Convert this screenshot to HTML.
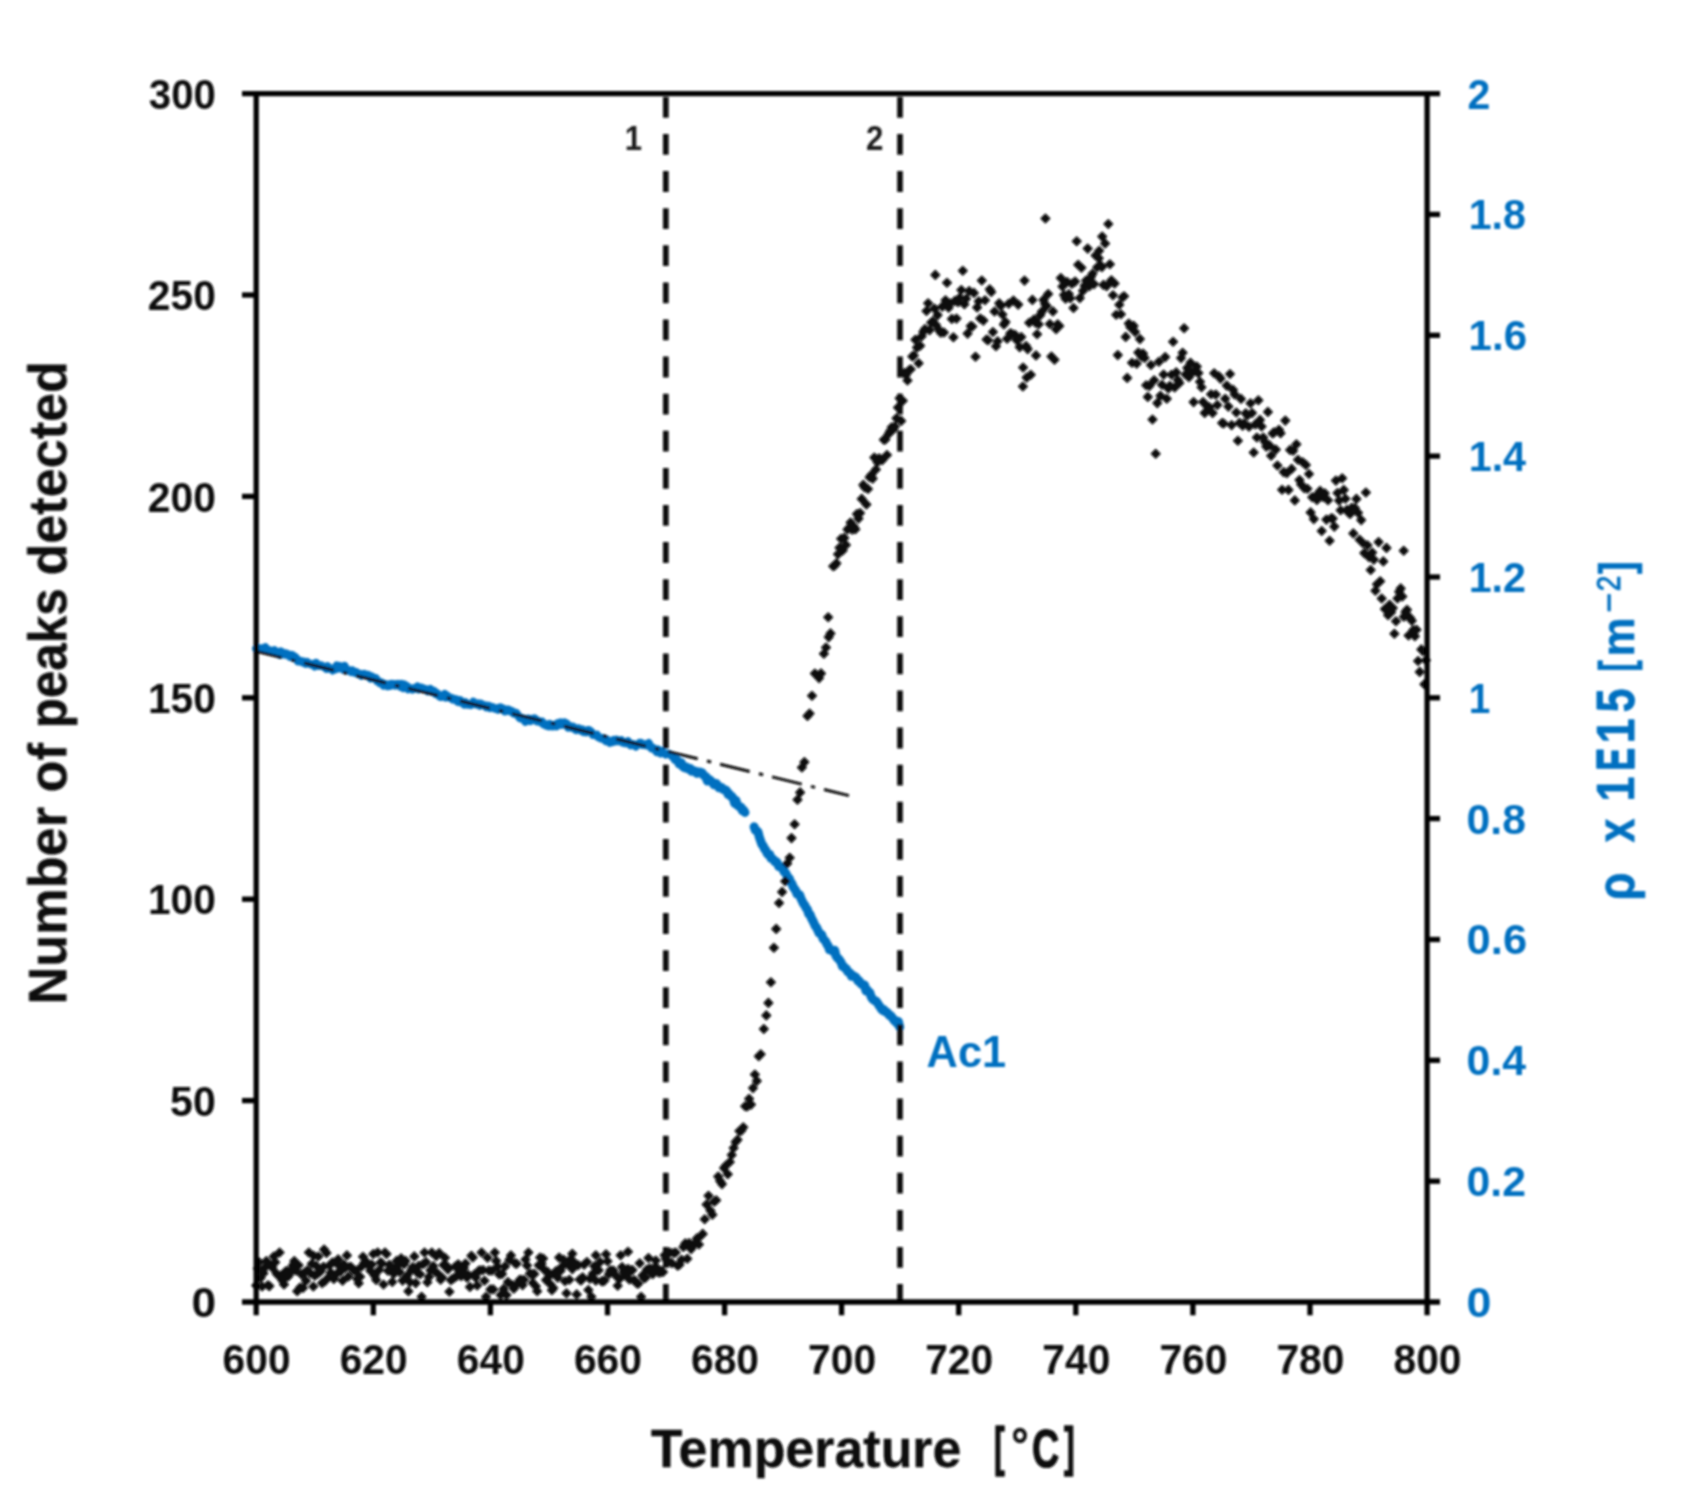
<!DOCTYPE html><html><head><meta charset="utf-8"><title>Chart</title><style>html,body{margin:0;padding:0;background:#fff;overflow:hidden}svg{display:block}text{font-family:"Liberation Sans",sans-serif;font-weight:bold}</style></head><body>
<svg width="1682" height="1501" viewBox="0 0 1682 1501">
<defs><filter id="soft" x="0" y="0" width="1682" height="1501" filterUnits="userSpaceOnUse"><feGaussianBlur stdDeviation="0.85"/></filter></defs>
<rect width="1682" height="1501" fill="#fff"/>
<g filter="url(#soft)">
<g fill="none" stroke="#0070c0" stroke-width="8.1" stroke-linejoin="round" stroke-linecap="round"><polyline points="256.2,648.7 257.5,648.1 258.8,648.7 260.1,648.5 261.4,648.2 262.7,649.0 264.0,648.1 265.3,647.3 266.6,649.3 267.9,650.3 269.2,650.0 270.5,651.3 271.8,651.2 273.1,650.7 274.4,650.1 275.7,651.8 277.0,651.8 278.3,652.9 279.6,654.8 280.9,651.5 282.2,652.4 283.5,654.4 284.8,654.6 286.1,653.3 287.4,654.0 288.7,654.7 290.0,656.8 291.3,654.9 292.6,655.2 293.9,657.9 295.2,657.0 296.5,658.7 297.8,661.3 299.1,660.4 300.4,661.3 301.7,662.1 303.0,661.4 304.3,663.1 305.6,663.8 306.9,661.9 308.2,663.2 309.5,663.4 310.8,664.4 312.1,664.8 313.4,663.9 314.7,666.4 316.0,662.9 317.3,664.5 318.6,665.9 319.9,665.4 321.2,665.3 322.5,666.3 323.8,667.0 325.1,667.4 326.4,668.8 327.7,666.3 329.0,668.7 330.3,668.3 331.6,668.5 332.9,670.4 334.2,669.6 335.5,669.1 336.8,665.5 338.1,668.6 339.4,666.0 340.7,666.6 342.0,667.1 343.3,669.6 344.6,665.9 345.9,669.6 347.2,670.5 348.5,670.4 349.8,670.3 351.1,671.9 352.4,670.6 353.7,671.8 355.0,672.9 356.3,672.2 357.6,673.4 358.9,674.3 360.2,673.8 361.5,675.7 362.8,674.5 364.1,673.9 365.4,675.0 366.7,674.9 368.0,674.7 369.3,676.8 370.6,678.5 371.9,676.6 373.2,677.6 374.5,678.3 375.8,678.0 377.1,681.2 378.4,681.0 379.7,683.1 381.0,682.3 382.3,683.1 383.6,685.6 384.9,684.0 386.2,684.8 387.5,686.1 388.8,684.5 390.1,685.8 391.4,683.8 392.7,684.4 394.0,684.0 395.3,685.5 396.6,684.1 397.9,683.9 399.2,685.3 400.5,686.7 401.8,684.1 403.1,688.1 404.4,684.5 405.7,685.9 407.0,686.0 408.3,689.2 409.6,688.3 410.9,688.4 412.2,689.6 413.5,689.2 414.8,688.1 416.1,687.6 417.4,686.5 418.7,689.3 420.0,687.6 421.3,687.6 422.6,688.0 423.9,688.7 425.2,689.0 426.5,689.4 427.8,691.3 429.1,690.7 430.4,689.1 431.7,691.6 433.0,690.7 434.3,691.1 435.6,693.9 436.9,693.2 438.2,694.3 439.5,696.4 440.8,697.0 442.1,696.4 443.4,695.7 444.7,694.0 446.0,697.5 447.3,695.8 448.6,697.4 449.9,697.7 451.2,697.7 452.5,699.5 453.8,698.8 455.1,699.2 456.4,699.3 457.7,701.8 459.0,702.1 460.3,700.3 461.6,702.5 462.9,703.2 464.2,704.4 465.5,702.2 466.8,703.9 468.1,704.7 469.4,704.5 470.7,705.1 472.0,704.3 473.3,701.7 474.6,702.9 475.9,704.3 477.2,704.7 478.5,703.6 479.8,705.7 481.1,703.8 482.4,704.7 483.7,705.3 485.0,705.3 486.3,707.1 487.6,705.8 488.9,705.7 490.2,708.0 491.5,707.0 492.8,707.3 494.1,708.3 495.4,708.9 496.7,708.4 498.0,709.7 499.3,707.9 500.6,707.4 501.9,708.2 503.2,708.6 504.5,711.4 505.8,711.2 507.1,709.5 508.4,709.6 509.7,710.3 511.0,711.7 512.3,711.3 513.6,713.6 514.9,713.3 516.2,712.8 517.5,714.6 518.8,716.8 520.1,718.3 521.4,717.8 522.7,718.2 524.0,719.9 525.3,721.7 526.6,720.5 527.9,718.6 529.2,718.7 530.5,721.0 531.8,719.5 533.1,718.7 534.4,718.4 535.7,719.3 537.0,721.5 538.3,721.3 539.6,721.2 540.9,722.5 542.2,721.8 543.5,724.4 544.8,724.5 546.1,725.5 547.4,724.5 548.7,726.2 550.0,724.1 551.3,726.3 552.6,726.4 553.9,725.0 555.2,726.1 556.5,726.4 557.8,723.0 559.1,723.1 560.4,722.5 561.7,724.7 563.0,723.3 564.3,722.5 565.6,724.6 566.9,723.8 568.2,727.7 569.5,726.1 570.8,727.5 572.1,726.5 573.4,726.7 574.7,729.0 576.0,730.0 577.3,728.5 578.6,728.4 579.9,729.6 581.2,730.8 582.5,729.6 583.8,732.0 585.1,731.1 586.4,732.2 587.7,730.1 589.0,730.1 590.3,731.0 591.6,732.2 592.9,734.9 594.2,734.8 595.5,735.3 596.8,734.7 598.1,737.2 599.4,737.3 600.7,738.5 602.0,738.5 603.3,738.2 604.6,739.9 605.9,741.1 607.2,739.7 608.5,740.9 609.8,742.7 611.1,741.5 612.4,742.0 613.7,740.1 615.0,741.3 616.3,739.8 617.6,741.1 618.9,740.3 620.2,741.4 621.5,740.4 622.8,742.7 624.1,742.4 625.4,743.3 626.7,743.0 628.0,741.3 629.3,743.5 630.6,745.2 631.9,744.4 633.2,744.1 634.5,745.3 635.8,746.4 637.1,745.0 638.4,744.4 639.7,742.8 641.0,742.8 642.3,744.9 643.6,744.2 644.9,744.3 646.2,745.4 647.5,744.5 648.8,743.1 650.1,746.4 651.4,748.3 652.7,747.7 654.0,748.8 655.3,750.2 656.6,752.0 657.9,749.4 659.2,751.7 660.5,753.4 661.8,751.0 663.1,753.0 664.4,753.3 665.7,754.5 667.0,753.8 668.3,753.8 669.6,754.1 670.9,754.8 672.2,756.6 673.5,757.1 674.8,759.8 676.1,760.6 677.4,759.8 678.7,764.0 680.0,764.2"/><polyline points="680.0,764.2 681.3,762.8 682.6,766.2 683.9,767.3 685.2,767.9 686.5,767.1 687.8,768.8 689.1,769.1 690.4,768.6 691.7,771.3 693.0,770.4 694.3,771.3 695.6,771.2 696.9,773.3 698.2,772.5 699.5,771.9 700.8,772.5 702.1,772.7 703.4,774.9 704.7,776.1 706.0,776.8 707.3,781.0 708.6,779.2 709.9,779.9 711.2,781.4 712.5,782.3 713.8,784.7 715.1,784.2 716.4,783.7 717.7,785.5 719.0,787.8 720.3,787.5 721.6,787.6 722.9,789.3 724.2,789.6 725.5,789.9 726.8,791.1 728.1,794.5 729.4,794.1 730.7,796.4 732.0,796.5 733.3,798.6 734.6,803.2 735.9,800.3 737.2,805.1 738.5,805.7 739.8,807.0 741.1,807.2 742.4,810.8 743.7,810.3 745.0,812.5" stroke-width="9"/><polyline points="754.1,826.8 755.4,830.4 756.7,830.7 758.0,832.0 759.3,837.0 760.6,840.9 761.9,844.3 763.2,845.9 764.5,848.9 765.8,850.1 767.1,853.4 768.4,854.7 769.7,854.5 771.0,858.3 772.3,858.6 773.6,859.7 774.9,861.7 776.2,861.6 777.5,863.3 778.8,866.6 780.1,866.9 781.4,867.7 782.7,868.1 784.0,871.7 785.3,872.4 786.6,874.9 787.9,877.3 789.2,878.3 790.5,881.9 791.8,883.4 793.1,886.8 794.4,888.8 795.7,890.4 797.0,894.1 798.3,894.1 799.6,894.9 800.9,898.4 802.2,901.1 803.5,903.8 804.8,905.3 806.1,908.0 807.4,909.5 808.7,914.0 810.0,914.4 811.3,917.8 812.6,920.3 813.9,923.0 815.2,925.9 816.5,927.3 817.8,930.2 819.1,933.1 820.4,933.8 821.7,934.7 823.0,938.6 824.3,940.0 825.6,941.2 826.9,944.3 828.2,945.9 829.5,949.7 830.8,949.7 832.1,950.4 833.4,951.9 834.7,950.2 836.0,955.9 837.3,957.9 838.6,958.9 839.9,960.5 841.2,962.6 842.5,966.5 843.8,966.6 845.1,968.3 846.4,968.7 847.7,971.7 849.0,972.2 850.3,973.4 851.6,976.3 852.9,975.5 854.2,976.6 855.5,976.9 856.8,978.7 858.1,981.2 859.4,981.1 860.7,983.4 862.0,984.5 863.3,984.6 864.6,985.0 865.9,990.9 867.2,989.8 868.5,991.7 869.8,992.5 871.1,996.7 872.4,998.7 873.7,1000.0 875.0,1000.8 876.3,1001.3 877.6,1003.1 878.9,1005.4 880.2,1007.0 881.5,1009.3 882.8,1010.5 884.1,1009.9 885.4,1011.9 886.7,1012.0 888.0,1013.4 889.3,1015.4 890.6,1015.5 891.9,1017.2 893.2,1019.0 894.5,1020.9 895.8,1020.8 897.1,1023.4 898.4,1021.4 899.7,1027.2" stroke-width="9"/></g>
<line x1="256.2" y1="651.4" x2="849" y2="795.6" stroke="#0a0a0a" stroke-width="3" stroke-dasharray="30.5 9.5 4.3 9.2" stroke-dashoffset="4.1"/>
<path d="M256.2,1281.1l4.3,4.3-4.3,4.3-4.3-4.3zM257.7,1264.3l4.3,4.3-4.3,4.3-4.3-4.3zM259.1,1257.9l4.3,4.3-4.3,4.3-4.3-4.3zM260.6,1273.7l4.3,4.3-4.3,4.3-4.3-4.3zM262.1,1282.2l4.3,4.3-4.3,4.3-4.3-4.3zM263.5,1269.0l4.3,4.3-4.3,4.3-4.3-4.3zM265.0,1263.3l4.3,4.3-4.3,4.3-4.3-4.3zM266.4,1256.8l4.3,4.3-4.3,4.3-4.3-4.3zM267.9,1281.0l4.3,4.3-4.3,4.3-4.3-4.3zM269.4,1281.8l4.3,4.3-4.3,4.3-4.3-4.3zM270.8,1260.9l4.3,4.3-4.3,4.3-4.3-4.3zM272.3,1263.3l4.3,4.3-4.3,4.3-4.3-4.3zM273.8,1252.2l4.3,4.3-4.3,4.3-4.3-4.3zM275.2,1258.0l4.3,4.3-4.3,4.3-4.3-4.3zM276.7,1269.4l4.3,4.3-4.3,4.3-4.3-4.3zM278.2,1271.2l4.3,4.3-4.3,4.3-4.3-4.3zM279.6,1248.2l4.3,4.3-4.3,4.3-4.3-4.3zM281.1,1271.3l4.3,4.3-4.3,4.3-4.3-4.3zM282.5,1276.5l4.3,4.3-4.3,4.3-4.3-4.3zM284.0,1280.2l4.3,4.3-4.3,4.3-4.3-4.3zM285.5,1267.3l4.3,4.3-4.3,4.3-4.3-4.3zM286.9,1266.8l4.3,4.3-4.3,4.3-4.3-4.3zM288.4,1271.9l4.3,4.3-4.3,4.3-4.3-4.3zM289.9,1268.9l4.3,4.3-4.3,4.3-4.3-4.3zM291.3,1265.4l4.3,4.3-4.3,4.3-4.3-4.3zM292.8,1261.0l4.3,4.3-4.3,4.3-4.3-4.3zM294.3,1256.8l4.3,4.3-4.3,4.3-4.3-4.3zM295.7,1266.1l4.3,4.3-4.3,4.3-4.3-4.3zM297.2,1287.0l4.3,4.3-4.3,4.3-4.3-4.3zM298.6,1260.9l4.3,4.3-4.3,4.3-4.3-4.3zM300.1,1283.2l4.3,4.3-4.3,4.3-4.3-4.3zM301.6,1270.1l4.3,4.3-4.3,4.3-4.3-4.3zM303.0,1283.7l4.3,4.3-4.3,4.3-4.3-4.3zM304.5,1268.3l4.3,4.3-4.3,4.3-4.3-4.3zM306.0,1276.4l4.3,4.3-4.3,4.3-4.3-4.3zM307.4,1266.1l4.3,4.3-4.3,4.3-4.3-4.3zM308.9,1248.2l4.3,4.3-4.3,4.3-4.3-4.3zM310.4,1268.8l4.3,4.3-4.3,4.3-4.3-4.3zM311.8,1259.5l4.3,4.3-4.3,4.3-4.3-4.3zM313.3,1282.2l4.3,4.3-4.3,4.3-4.3-4.3zM314.7,1271.3l4.3,4.3-4.3,4.3-4.3-4.3zM316.2,1261.4l4.3,4.3-4.3,4.3-4.3-4.3zM317.7,1269.3l4.3,4.3-4.3,4.3-4.3-4.3zM319.1,1264.4l4.3,4.3-4.3,4.3-4.3-4.3zM320.6,1267.2l4.3,4.3-4.3,4.3-4.3-4.3zM322.1,1278.8l4.3,4.3-4.3,4.3-4.3-4.3zM323.5,1262.4l4.3,4.3-4.3,4.3-4.3-4.3zM325.0,1276.8l4.3,4.3-4.3,4.3-4.3-4.3zM326.5,1248.7l4.3,4.3-4.3,4.3-4.3-4.3zM327.9,1273.6l4.3,4.3-4.3,4.3-4.3-4.3zM329.4,1261.1l4.3,4.3-4.3,4.3-4.3-4.3zM330.8,1268.3l4.3,4.3-4.3,4.3-4.3-4.3zM332.3,1258.3l4.3,4.3-4.3,4.3-4.3-4.3zM333.8,1274.6l4.3,4.3-4.3,4.3-4.3-4.3zM335.2,1257.8l4.3,4.3-4.3,4.3-4.3-4.3zM336.7,1269.6l4.3,4.3-4.3,4.3-4.3-4.3zM338.2,1255.1l4.3,4.3-4.3,4.3-4.3-4.3zM339.6,1261.8l4.3,4.3-4.3,4.3-4.3-4.3zM341.1,1266.8l4.3,4.3-4.3,4.3-4.3-4.3zM342.6,1276.5l4.3,4.3-4.3,4.3-4.3-4.3zM344.0,1260.3l4.3,4.3-4.3,4.3-4.3-4.3zM345.5,1263.4l4.3,4.3-4.3,4.3-4.3-4.3zM346.9,1251.1l4.3,4.3-4.3,4.3-4.3-4.3zM348.4,1272.2l4.3,4.3-4.3,4.3-4.3-4.3zM349.9,1262.5l4.3,4.3-4.3,4.3-4.3-4.3zM351.3,1263.0l4.3,4.3-4.3,4.3-4.3-4.3zM352.8,1265.3l4.3,4.3-4.3,4.3-4.3-4.3zM354.3,1266.1l4.3,4.3-4.3,4.3-4.3-4.3zM355.7,1266.4l4.3,4.3-4.3,4.3-4.3-4.3zM357.2,1274.6l4.3,4.3-4.3,4.3-4.3-4.3zM358.7,1278.9l4.3,4.3-4.3,4.3-4.3-4.3zM360.1,1272.4l4.3,4.3-4.3,4.3-4.3-4.3zM361.6,1262.1l4.3,4.3-4.3,4.3-4.3-4.3zM363.0,1252.5l4.3,4.3-4.3,4.3-4.3-4.3zM364.5,1258.1l4.3,4.3-4.3,4.3-4.3-4.3zM366.0,1257.3l4.3,4.3-4.3,4.3-4.3-4.3zM367.4,1260.2l4.3,4.3-4.3,4.3-4.3-4.3zM368.9,1261.0l4.3,4.3-4.3,4.3-4.3-4.3zM370.4,1266.4l4.3,4.3-4.3,4.3-4.3-4.3zM371.8,1260.2l4.3,4.3-4.3,4.3-4.3-4.3zM373.3,1249.7l4.3,4.3-4.3,4.3-4.3-4.3zM374.8,1271.7l4.3,4.3-4.3,4.3-4.3-4.3zM376.2,1275.6l4.3,4.3-4.3,4.3-4.3-4.3zM377.7,1248.2l4.3,4.3-4.3,4.3-4.3-4.3zM379.1,1265.7l4.3,4.3-4.3,4.3-4.3-4.3zM380.6,1258.1l4.3,4.3-4.3,4.3-4.3-4.3zM382.1,1259.1l4.3,4.3-4.3,4.3-4.3-4.3zM383.5,1280.2l4.3,4.3-4.3,4.3-4.3-4.3zM385.0,1248.2l4.3,4.3-4.3,4.3-4.3-4.3zM386.5,1249.7l4.3,4.3-4.3,4.3-4.3-4.3zM387.9,1266.4l4.3,4.3-4.3,4.3-4.3-4.3zM389.4,1260.4l4.3,4.3-4.3,4.3-4.3-4.3zM390.9,1267.0l4.3,4.3-4.3,4.3-4.3-4.3zM392.3,1277.6l4.3,4.3-4.3,4.3-4.3-4.3zM393.8,1269.5l4.3,4.3-4.3,4.3-4.3-4.3zM395.2,1264.4l4.3,4.3-4.3,4.3-4.3-4.3zM396.7,1256.6l4.3,4.3-4.3,4.3-4.3-4.3zM398.2,1260.9l4.3,4.3-4.3,4.3-4.3-4.3zM399.6,1267.7l4.3,4.3-4.3,4.3-4.3-4.3zM401.1,1254.1l4.3,4.3-4.3,4.3-4.3-4.3zM402.6,1276.3l4.3,4.3-4.3,4.3-4.3-4.3zM404.0,1260.0l4.3,4.3-4.3,4.3-4.3-4.3zM405.5,1256.6l4.3,4.3-4.3,4.3-4.3-4.3zM407.0,1271.4l4.3,4.3-4.3,4.3-4.3-4.3zM408.4,1287.0l4.3,4.3-4.3,4.3-4.3-4.3zM409.9,1277.8l4.3,4.3-4.3,4.3-4.3-4.3zM411.3,1265.8l4.3,4.3-4.3,4.3-4.3-4.3zM412.8,1262.8l4.3,4.3-4.3,4.3-4.3-4.3zM414.3,1252.1l4.3,4.3-4.3,4.3-4.3-4.3zM415.7,1278.8l4.3,4.3-4.3,4.3-4.3-4.3zM417.2,1268.3l4.3,4.3-4.3,4.3-4.3-4.3zM418.7,1261.5l4.3,4.3-4.3,4.3-4.3-4.3zM420.1,1269.9l4.3,4.3-4.3,4.3-4.3-4.3zM421.6,1292.5l4.3,4.3-4.3,4.3-4.3-4.3zM423.1,1259.8l4.3,4.3-4.3,4.3-4.3-4.3zM424.5,1248.2l4.3,4.3-4.3,4.3-4.3-4.3zM426.0,1257.8l4.3,4.3-4.3,4.3-4.3-4.3zM427.4,1277.9l4.3,4.3-4.3,4.3-4.3-4.3zM428.9,1272.6l4.3,4.3-4.3,4.3-4.3-4.3zM430.4,1266.0l4.3,4.3-4.3,4.3-4.3-4.3zM431.8,1248.2l4.3,4.3-4.3,4.3-4.3-4.3zM433.3,1261.8l4.3,4.3-4.3,4.3-4.3-4.3zM434.8,1267.1l4.3,4.3-4.3,4.3-4.3-4.3zM436.2,1252.0l4.3,4.3-4.3,4.3-4.3-4.3zM437.7,1269.2l4.3,4.3-4.3,4.3-4.3-4.3zM439.2,1248.8l4.3,4.3-4.3,4.3-4.3-4.3zM440.6,1275.5l4.3,4.3-4.3,4.3-4.3-4.3zM442.1,1273.3l4.3,4.3-4.3,4.3-4.3-4.3zM443.5,1260.7l4.3,4.3-4.3,4.3-4.3-4.3zM445.0,1253.4l4.3,4.3-4.3,4.3-4.3-4.3zM446.5,1261.4l4.3,4.3-4.3,4.3-4.3-4.3zM447.9,1265.1l4.3,4.3-4.3,4.3-4.3-4.3zM449.4,1287.4l4.3,4.3-4.3,4.3-4.3-4.3zM450.9,1275.8l4.3,4.3-4.3,4.3-4.3-4.3zM452.3,1274.7l4.3,4.3-4.3,4.3-4.3-4.3zM453.8,1273.9l4.3,4.3-4.3,4.3-4.3-4.3zM455.3,1262.2l4.3,4.3-4.3,4.3-4.3-4.3zM456.7,1271.8l4.3,4.3-4.3,4.3-4.3-4.3zM458.2,1260.0l4.3,4.3-4.3,4.3-4.3-4.3zM459.6,1267.4l4.3,4.3-4.3,4.3-4.3-4.3zM461.1,1271.8l4.3,4.3-4.3,4.3-4.3-4.3zM462.6,1267.1l4.3,4.3-4.3,4.3-4.3-4.3zM464.0,1263.8l4.3,4.3-4.3,4.3-4.3-4.3zM465.5,1259.3l4.3,4.3-4.3,4.3-4.3-4.3zM467.0,1273.3l4.3,4.3-4.3,4.3-4.3-4.3zM468.4,1270.7l4.3,4.3-4.3,4.3-4.3-4.3zM469.9,1282.6l4.3,4.3-4.3,4.3-4.3-4.3zM471.4,1251.5l4.3,4.3-4.3,4.3-4.3-4.3zM472.8,1253.1l4.3,4.3-4.3,4.3-4.3-4.3zM474.3,1270.2l4.3,4.3-4.3,4.3-4.3-4.3zM475.7,1273.3l4.3,4.3-4.3,4.3-4.3-4.3zM477.2,1281.2l4.3,4.3-4.3,4.3-4.3-4.3zM478.7,1266.5l4.3,4.3-4.3,4.3-4.3-4.3zM480.1,1266.1l4.3,4.3-4.3,4.3-4.3-4.3zM481.6,1248.2l4.3,4.3-4.3,4.3-4.3-4.3zM483.1,1265.7l4.3,4.3-4.3,4.3-4.3-4.3zM484.5,1276.4l4.3,4.3-4.3,4.3-4.3-4.3zM486.0,1292.5l4.3,4.3-4.3,4.3-4.3-4.3zM487.5,1253.5l4.3,4.3-4.3,4.3-4.3-4.3zM488.9,1266.3l4.3,4.3-4.3,4.3-4.3-4.3zM490.4,1285.1l4.3,4.3-4.3,4.3-4.3-4.3zM491.8,1266.4l4.3,4.3-4.3,4.3-4.3-4.3zM493.3,1285.1l4.3,4.3-4.3,4.3-4.3-4.3zM494.8,1248.2l4.3,4.3-4.3,4.3-4.3-4.3zM496.2,1256.6l4.3,4.3-4.3,4.3-4.3-4.3zM497.7,1262.3l4.3,4.3-4.3,4.3-4.3-4.3zM499.2,1270.1l4.3,4.3-4.3,4.3-4.3-4.3zM500.6,1290.7l4.3,4.3-4.3,4.3-4.3-4.3zM502.1,1269.6l4.3,4.3-4.3,4.3-4.3-4.3zM503.6,1284.6l4.3,4.3-4.3,4.3-4.3-4.3zM505.0,1262.1l4.3,4.3-4.3,4.3-4.3-4.3zM506.5,1290.7l4.3,4.3-4.3,4.3-4.3-4.3zM507.9,1277.8l4.3,4.3-4.3,4.3-4.3-4.3zM509.4,1255.5l4.3,4.3-4.3,4.3-4.3-4.3zM510.9,1251.1l4.3,4.3-4.3,4.3-4.3-4.3zM512.3,1280.7l4.3,4.3-4.3,4.3-4.3-4.3zM513.8,1284.4l4.3,4.3-4.3,4.3-4.3-4.3zM515.3,1259.1l4.3,4.3-4.3,4.3-4.3-4.3zM516.7,1259.4l4.3,4.3-4.3,4.3-4.3-4.3zM518.2,1278.6l4.3,4.3-4.3,4.3-4.3-4.3zM519.7,1275.6l4.3,4.3-4.3,4.3-4.3-4.3zM521.1,1275.6l4.3,4.3-4.3,4.3-4.3-4.3zM522.6,1280.8l4.3,4.3-4.3,4.3-4.3-4.3zM524.0,1275.4l4.3,4.3-4.3,4.3-4.3-4.3zM525.5,1255.2l4.3,4.3-4.3,4.3-4.3-4.3zM527.0,1261.1l4.3,4.3-4.3,4.3-4.3-4.3zM528.4,1248.2l4.3,4.3-4.3,4.3-4.3-4.3zM529.9,1269.2l4.3,4.3-4.3,4.3-4.3-4.3zM531.4,1269.7l4.3,4.3-4.3,4.3-4.3-4.3zM532.8,1278.6l4.3,4.3-4.3,4.3-4.3-4.3zM534.3,1269.6l4.3,4.3-4.3,4.3-4.3-4.3zM535.8,1282.0l4.3,4.3-4.3,4.3-4.3-4.3zM537.2,1286.9l4.3,4.3-4.3,4.3-4.3-4.3zM538.7,1261.0l4.3,4.3-4.3,4.3-4.3-4.3zM540.1,1253.2l4.3,4.3-4.3,4.3-4.3-4.3zM541.6,1259.5l4.3,4.3-4.3,4.3-4.3-4.3zM543.1,1254.3l4.3,4.3-4.3,4.3-4.3-4.3zM544.5,1265.7l4.3,4.3-4.3,4.3-4.3-4.3zM546.0,1275.8l4.3,4.3-4.3,4.3-4.3-4.3zM547.5,1267.4l4.3,4.3-4.3,4.3-4.3-4.3zM548.9,1272.2l4.3,4.3-4.3,4.3-4.3-4.3zM550.4,1279.9l4.3,4.3-4.3,4.3-4.3-4.3zM551.9,1286.0l4.3,4.3-4.3,4.3-4.3-4.3zM553.3,1283.8l4.3,4.3-4.3,4.3-4.3-4.3zM554.8,1268.4l4.3,4.3-4.3,4.3-4.3-4.3zM556.2,1266.7l4.3,4.3-4.3,4.3-4.3-4.3zM557.7,1273.3l4.3,4.3-4.3,4.3-4.3-4.3zM559.2,1253.3l4.3,4.3-4.3,4.3-4.3-4.3zM560.6,1266.4l4.3,4.3-4.3,4.3-4.3-4.3zM562.1,1262.2l4.3,4.3-4.3,4.3-4.3-4.3zM563.6,1255.5l4.3,4.3-4.3,4.3-4.3-4.3zM565.0,1276.9l4.3,4.3-4.3,4.3-4.3-4.3zM566.5,1288.9l4.3,4.3-4.3,4.3-4.3-4.3zM568.0,1260.4l4.3,4.3-4.3,4.3-4.3-4.3zM569.4,1275.5l4.3,4.3-4.3,4.3-4.3-4.3zM570.9,1254.6l4.3,4.3-4.3,4.3-4.3-4.3zM572.3,1264.8l4.3,4.3-4.3,4.3-4.3-4.3zM573.8,1257.8l4.3,4.3-4.3,4.3-4.3-4.3zM575.3,1260.3l4.3,4.3-4.3,4.3-4.3-4.3zM576.7,1290.1l4.3,4.3-4.3,4.3-4.3-4.3zM578.2,1260.8l4.3,4.3-4.3,4.3-4.3-4.3zM579.7,1275.3l4.3,4.3-4.3,4.3-4.3-4.3zM581.1,1276.2l4.3,4.3-4.3,4.3-4.3-4.3zM582.6,1272.9l4.3,4.3-4.3,4.3-4.3-4.3zM584.1,1260.3l4.3,4.3-4.3,4.3-4.3-4.3zM585.5,1259.0l4.3,4.3-4.3,4.3-4.3-4.3zM587.0,1257.7l4.3,4.3-4.3,4.3-4.3-4.3zM588.4,1285.7l4.3,4.3-4.3,4.3-4.3-4.3zM589.9,1274.5l4.3,4.3-4.3,4.3-4.3-4.3zM591.4,1292.5l4.3,4.3-4.3,4.3-4.3-4.3zM592.8,1269.4l4.3,4.3-4.3,4.3-4.3-4.3zM594.3,1262.0l4.3,4.3-4.3,4.3-4.3-4.3zM595.8,1276.3l4.3,4.3-4.3,4.3-4.3-4.3zM597.2,1265.7l4.3,4.3-4.3,4.3-4.3-4.3zM598.7,1265.9l4.3,4.3-4.3,4.3-4.3-4.3zM600.2,1257.7l4.3,4.3-4.3,4.3-4.3-4.3zM601.6,1276.9l4.3,4.3-4.3,4.3-4.3-4.3zM603.1,1277.0l4.3,4.3-4.3,4.3-4.3-4.3zM604.5,1276.3l4.3,4.3-4.3,4.3-4.3-4.3zM606.0,1249.9l4.3,4.3-4.3,4.3-4.3-4.3zM607.5,1256.9l4.3,4.3-4.3,4.3-4.3-4.3zM608.9,1269.6l4.3,4.3-4.3,4.3-4.3-4.3zM610.4,1265.9l4.3,4.3-4.3,4.3-4.3-4.3zM611.9,1267.1l4.3,4.3-4.3,4.3-4.3-4.3zM613.3,1266.2l4.3,4.3-4.3,4.3-4.3-4.3zM614.8,1270.5l4.3,4.3-4.3,4.3-4.3-4.3zM616.3,1271.8l4.3,4.3-4.3,4.3-4.3-4.3zM617.7,1281.5l4.3,4.3-4.3,4.3-4.3-4.3zM619.2,1275.0l4.3,4.3-4.3,4.3-4.3-4.3zM620.6,1251.0l4.3,4.3-4.3,4.3-4.3-4.3zM622.1,1262.7l4.3,4.3-4.3,4.3-4.3-4.3zM623.6,1267.6l4.3,4.3-4.3,4.3-4.3-4.3zM625.0,1270.5l4.3,4.3-4.3,4.3-4.3-4.3zM626.5,1267.6l4.3,4.3-4.3,4.3-4.3-4.3zM628.0,1264.6l4.3,4.3-4.3,4.3-4.3-4.3zM629.4,1275.1l4.3,4.3-4.3,4.3-4.3-4.3zM630.9,1266.2l4.3,4.3-4.3,4.3-4.3-4.3zM632.4,1265.8l4.3,4.3-4.3,4.3-4.3-4.3zM633.8,1276.1l4.3,4.3-4.3,4.3-4.3-4.3zM635.3,1276.6l4.3,4.3-4.3,4.3-4.3-4.3zM636.7,1278.8l4.3,4.3-4.3,4.3-4.3-4.3zM638.2,1279.4l4.3,4.3-4.3,4.3-4.3-4.3zM639.7,1259.0l4.3,4.3-4.3,4.3-4.3-4.3zM641.1,1292.5l4.3,4.3-4.3,4.3-4.3-4.3zM642.6,1271.1l4.3,4.3-4.3,4.3-4.3-4.3zM644.1,1274.0l4.3,4.3-4.3,4.3-4.3-4.3zM645.5,1273.4l4.3,4.3-4.3,4.3-4.3-4.3zM647.0,1265.2l4.3,4.3-4.3,4.3-4.3-4.3zM648.5,1253.7l4.3,4.3-4.3,4.3-4.3-4.3zM649.9,1264.1l4.3,4.3-4.3,4.3-4.3-4.3zM651.4,1265.7l4.3,4.3-4.3,4.3-4.3-4.3zM652.8,1269.9l4.3,4.3-4.3,4.3-4.3-4.3zM654.3,1263.6l4.3,4.3-4.3,4.3-4.3-4.3zM655.8,1256.2l4.3,4.3-4.3,4.3-4.3-4.3zM657.2,1264.0l4.3,4.3-4.3,4.3-4.3-4.3zM658.7,1268.1l4.3,4.3-4.3,4.3-4.3-4.3zM660.2,1268.2l4.3,4.3-4.3,4.3-4.3-4.3zM661.6,1266.5l4.3,4.3-4.3,4.3-4.3-4.3zM663.1,1267.7l4.3,4.3-4.3,4.3-4.3-4.3zM664.6,1250.9l4.3,4.3-4.3,4.3-4.3-4.3zM666.0,1255.0l4.3,4.3-4.3,4.3-4.3-4.3zM667.9,1258.0l4.3,4.3-4.3,4.3-4.3-4.3zM669.9,1248.2l4.3,4.3-4.3,4.3-4.3-4.3zM671.8,1258.8l4.3,4.3-4.3,4.3-4.3-4.3zM673.7,1248.7l4.3,4.3-4.3,4.3-4.3-4.3zM675.7,1248.2l4.3,4.3-4.3,4.3-4.3-4.3zM677.6,1261.5l4.3,4.3-4.3,4.3-4.3-4.3zM679.5,1260.5l4.3,4.3-4.3,4.3-4.3-4.3zM681.5,1255.5l4.3,4.3-4.3,4.3-4.3-4.3zM683.4,1242.6l4.3,4.3-4.3,4.3-4.3-4.3zM685.3,1239.1l4.3,4.3-4.3,4.3-4.3-4.3zM687.3,1254.4l4.3,4.3-4.3,4.3-4.3-4.3zM689.2,1238.7l4.3,4.3-4.3,4.3-4.3-4.3zM691.1,1244.8l4.3,4.3-4.3,4.3-4.3-4.3zM693.1,1241.4l4.3,4.3-4.3,4.3-4.3-4.3zM695.0,1239.0l4.3,4.3-4.3,4.3-4.3-4.3zM696.9,1234.1l4.3,4.3-4.3,4.3-4.3-4.3zM698.9,1240.2l4.3,4.3-4.3,4.3-4.3-4.3zM700.8,1231.5l4.3,4.3-4.3,4.3-4.3-4.3zM702.7,1229.6l4.3,4.3-4.3,4.3-4.3-4.3zM704.7,1215.0l4.3,4.3-4.3,4.3-4.3-4.3zM706.6,1200.3l4.3,4.3-4.3,4.3-4.3-4.3zM708.5,1191.4l4.3,4.3-4.3,4.3-4.3-4.3zM710.5,1206.4l4.3,4.3-4.3,4.3-4.3-4.3zM712.4,1210.5l4.3,4.3-4.3,4.3-4.3-4.3zM714.3,1197.3l4.3,4.3-4.3,4.3-4.3-4.3zM716.2,1195.9l4.3,4.3-4.3,4.3-4.3-4.3zM718.2,1172.3l4.3,4.3-4.3,4.3-4.3-4.3zM720.1,1176.6l4.3,4.3-4.3,4.3-4.3-4.3zM722.0,1179.8l4.3,4.3-4.3,4.3-4.3-4.3zM724.0,1163.8l4.3,4.3-4.3,4.3-4.3-4.3zM725.9,1161.2l4.3,4.3-4.3,4.3-4.3-4.3zM727.8,1169.9l4.3,4.3-4.3,4.3-4.3-4.3zM729.8,1157.7l4.3,4.3-4.3,4.3-4.3-4.3zM731.7,1150.6l4.3,4.3-4.3,4.3-4.3-4.3zM733.6,1143.7l4.3,4.3-4.3,4.3-4.3-4.3zM735.6,1137.7l4.3,4.3-4.3,4.3-4.3-4.3zM737.5,1135.4l4.3,4.3-4.3,4.3-4.3-4.3zM739.4,1126.7l4.3,4.3-4.3,4.3-4.3-4.3zM741.4,1126.3l4.3,4.3-4.3,4.3-4.3-4.3zM743.3,1123.0l4.3,4.3-4.3,4.3-4.3-4.3zM745.2,1102.0l4.3,4.3-4.3,4.3-4.3-4.3zM747.2,1102.2l4.3,4.3-4.3,4.3-4.3-4.3zM749.1,1094.4l4.3,4.3-4.3,4.3-4.3-4.3zM751.0,1100.3l4.3,4.3-4.3,4.3-4.3-4.3zM753.0,1083.8l4.3,4.3-4.3,4.3-4.3-4.3zM754.9,1070.2l4.3,4.3-4.3,4.3-4.3-4.3zM756.8,1076.6l4.3,4.3-4.3,4.3-4.3-4.3zM758.8,1052.0l4.3,4.3-4.3,4.3-4.3-4.3zM760.7,1049.9l4.3,4.3-4.3,4.3-4.3-4.3zM763.8,1024.7l4.3,4.3-4.3,4.3-4.3-4.3zM766.3,1011.1l4.3,4.3-4.3,4.3-4.3-4.3zM768.4,998.6l4.3,4.3-4.3,4.3-4.3-4.3zM770.9,977.9l4.3,4.3-4.3,4.3-4.3-4.3zM773.9,943.5l4.3,4.3-4.3,4.3-4.3-4.3zM776.2,924.6l4.3,4.3-4.3,4.3-4.3-4.3zM779.1,898.7l4.3,4.3-4.3,4.3-4.3-4.3zM782.1,887.6l4.3,4.3-4.3,4.3-4.3-4.3zM785.2,876.9l4.3,4.3-4.3,4.3-4.3-4.3zM787.2,859.2l4.3,4.3-4.3,4.3-4.3-4.3zM789.7,853.5l4.3,4.3-4.3,4.3-4.3-4.3zM791.5,833.8l4.3,4.3-4.3,4.3-4.3-4.3zM794.6,819.9l4.3,4.3-4.3,4.3-4.3-4.3zM797.5,795.4l4.3,4.3-4.3,4.3-4.3-4.3zM800.1,788.1l4.3,4.3-4.3,4.3-4.3-4.3zM801.9,763.2l4.3,4.3-4.3,4.3-4.3-4.3zM804.4,757.8l4.3,4.3-4.3,4.3-4.3-4.3zM807.5,711.6l4.3,4.3-4.3,4.3-4.3-4.3zM809.6,709.2l4.3,4.3-4.3,4.3-4.3-4.3zM812.0,691.5l4.3,4.3-4.3,4.3-4.3-4.3zM814.9,669.3l4.3,4.3-4.3,4.3-4.3-4.3zM817.1,671.3l4.3,4.3-4.3,4.3-4.3-4.3zM819.1,673.8l4.3,4.3-4.3,4.3-4.3-4.3zM821.0,669.1l4.3,4.3-4.3,4.3-4.3-4.3zM823.9,649.4l4.3,4.3-4.3,4.3-4.3-4.3zM826.0,643.2l4.3,4.3-4.3,4.3-4.3-4.3zM828.7,632.8l4.3,4.3-4.3,4.3-4.3-4.3zM833.2,561.9l4.3,4.3-4.3,4.3-4.3-4.3zM834.8,561.2l4.3,4.3-4.3,4.3-4.3-4.3zM836.4,559.0l4.3,4.3-4.3,4.3-4.3-4.3zM838.0,550.0l4.3,4.3-4.3,4.3-4.3-4.3zM839.5,543.4l4.3,4.3-4.3,4.3-4.3-4.3zM841.1,534.5l4.3,4.3-4.3,4.3-4.3-4.3zM842.7,546.2l4.3,4.3-4.3,4.3-4.3-4.3zM844.3,533.6l4.3,4.3-4.3,4.3-4.3-4.3zM845.9,540.6l4.3,4.3-4.3,4.3-4.3-4.3zM847.5,525.1l4.3,4.3-4.3,4.3-4.3-4.3zM849.0,523.5l4.3,4.3-4.3,4.3-4.3-4.3zM850.6,518.2l4.3,4.3-4.3,4.3-4.3-4.3zM852.2,525.5l4.3,4.3-4.3,4.3-4.3-4.3zM853.8,522.3l4.3,4.3-4.3,4.3-4.3-4.3zM855.4,524.9l4.3,4.3-4.3,4.3-4.3-4.3zM856.9,509.8l4.3,4.3-4.3,4.3-4.3-4.3zM858.5,514.3l4.3,4.3-4.3,4.3-4.3-4.3zM860.1,508.8l4.3,4.3-4.3,4.3-4.3-4.3zM861.7,494.6l4.3,4.3-4.3,4.3-4.3-4.3zM863.3,480.6l4.3,4.3-4.3,4.3-4.3-4.3zM864.8,483.2l4.3,4.3-4.3,4.3-4.3-4.3zM866.4,500.1l4.3,4.3-4.3,4.3-4.3-4.3zM868.0,484.7l4.3,4.3-4.3,4.3-4.3-4.3zM869.6,473.0l4.3,4.3-4.3,4.3-4.3-4.3zM871.2,470.8l4.3,4.3-4.3,4.3-4.3-4.3zM872.7,474.3l4.3,4.3-4.3,4.3-4.3-4.3zM874.3,453.3l4.3,4.3-4.3,4.3-4.3-4.3zM875.9,465.2l4.3,4.3-4.3,4.3-4.3-4.3zM877.5,458.0l4.3,4.3-4.3,4.3-4.3-4.3zM879.1,453.9l4.3,4.3-4.3,4.3-4.3-4.3zM880.6,455.0l4.3,4.3-4.3,4.3-4.3-4.3zM882.2,456.0l4.3,4.3-4.3,4.3-4.3-4.3zM883.8,435.5l4.3,4.3-4.3,4.3-4.3-4.3zM885.4,435.2l4.3,4.3-4.3,4.3-4.3-4.3zM887.0,450.7l4.3,4.3-4.3,4.3-4.3-4.3zM888.6,429.6l4.3,4.3-4.3,4.3-4.3-4.3zM890.1,426.8l4.3,4.3-4.3,4.3-4.3-4.3zM891.7,423.0l4.3,4.3-4.3,4.3-4.3-4.3zM893.3,425.1l4.3,4.3-4.3,4.3-4.3-4.3zM894.9,422.2l4.3,4.3-4.3,4.3-4.3-4.3zM896.5,414.0l4.3,4.3-4.3,4.3-4.3-4.3zM898.0,403.3l4.3,4.3-4.3,4.3-4.3-4.3zM899.6,394.0l4.3,4.3-4.3,4.3-4.3-4.3zM901.2,416.6l4.3,4.3-4.3,4.3-4.3-4.3zM902.8,396.5l4.3,4.3-4.3,4.3-4.3-4.3zM904.4,368.8l4.3,4.3-4.3,4.3-4.3-4.3zM905.9,370.6l4.3,4.3-4.3,4.3-4.3-4.3zM907.5,376.2l4.3,4.3-4.3,4.3-4.3-4.3zM909.1,366.0l4.3,4.3-4.3,4.3-4.3-4.3zM910.7,365.0l4.3,4.3-4.3,4.3-4.3-4.3zM912.3,352.1l4.3,4.3-4.3,4.3-4.3-4.3zM913.8,351.3l4.3,4.3-4.3,4.3-4.3-4.3zM915.4,335.5l4.3,4.3-4.3,4.3-4.3-4.3zM917.0,343.3l4.3,4.3-4.3,4.3-4.3-4.3zM918.6,359.0l4.3,4.3-4.3,4.3-4.3-4.3zM920.2,341.4l4.3,4.3-4.3,4.3-4.3-4.3zM921.7,331.9l4.3,4.3-4.3,4.3-4.3-4.3zM923.3,327.5l4.3,4.3-4.3,4.3-4.3-4.3zM924.9,324.7l4.3,4.3-4.3,4.3-4.3-4.3zM926.5,306.7l4.3,4.3-4.3,4.3-4.3-4.3zM928.1,299.0l4.3,4.3-4.3,4.3-4.3-4.3zM929.6,325.8l4.3,4.3-4.3,4.3-4.3-4.3zM931.2,318.2l4.3,4.3-4.3,4.3-4.3-4.3zM932.8,317.0l4.3,4.3-4.3,4.3-4.3-4.3zM934.4,304.2l4.3,4.3-4.3,4.3-4.3-4.3zM936.0,320.6l4.3,4.3-4.3,4.3-4.3-4.3zM937.6,310.8l4.3,4.3-4.3,4.3-4.3-4.3zM939.1,325.6l4.3,4.3-4.3,4.3-4.3-4.3zM940.7,328.4l4.3,4.3-4.3,4.3-4.3-4.3zM942.3,302.3l4.3,4.3-4.3,4.3-4.3-4.3zM943.9,328.2l4.3,4.3-4.3,4.3-4.3-4.3zM945.5,296.0l4.3,4.3-4.3,4.3-4.3-4.3zM947.0,278.5l4.3,4.3-4.3,4.3-4.3-4.3zM948.6,303.5l4.3,4.3-4.3,4.3-4.3-4.3zM950.2,299.3l4.3,4.3-4.3,4.3-4.3-4.3zM951.8,314.6l4.3,4.3-4.3,4.3-4.3-4.3zM953.4,332.9l4.3,4.3-4.3,4.3-4.3-4.3zM954.9,296.6l4.3,4.3-4.3,4.3-4.3-4.3zM956.5,314.3l4.3,4.3-4.3,4.3-4.3-4.3zM958.1,297.9l4.3,4.3-4.3,4.3-4.3-4.3zM959.7,293.4l4.3,4.3-4.3,4.3-4.3-4.3zM961.3,285.7l4.3,4.3-4.3,4.3-4.3-4.3zM962.8,266.4l4.3,4.3-4.3,4.3-4.3-4.3zM964.4,299.9l4.3,4.3-4.3,4.3-4.3-4.3zM966.0,294.5l4.3,4.3-4.3,4.3-4.3-4.3zM967.6,329.3l4.3,4.3-4.3,4.3-4.3-4.3zM969.2,286.8l4.3,4.3-4.3,4.3-4.3-4.3zM970.7,321.8l4.3,4.3-4.3,4.3-4.3-4.3zM972.3,322.2l4.3,4.3-4.3,4.3-4.3-4.3zM973.9,288.6l4.3,4.3-4.3,4.3-4.3-4.3zM975.5,352.4l4.3,4.3-4.3,4.3-4.3-4.3zM977.1,303.1l4.3,4.3-4.3,4.3-4.3-4.3zM978.7,296.9l4.3,4.3-4.3,4.3-4.3-4.3zM980.2,314.2l4.3,4.3-4.3,4.3-4.3-4.3zM981.8,276.2l4.3,4.3-4.3,4.3-4.3-4.3zM983.4,316.3l4.3,4.3-4.3,4.3-4.3-4.3zM985.0,296.0l4.3,4.3-4.3,4.3-4.3-4.3zM986.6,335.2l4.3,4.3-4.3,4.3-4.3-4.3zM988.1,336.0l4.3,4.3-4.3,4.3-4.3-4.3zM989.7,285.0l4.3,4.3-4.3,4.3-4.3-4.3zM991.3,287.7l4.3,4.3-4.3,4.3-4.3-4.3zM992.9,327.7l4.3,4.3-4.3,4.3-4.3-4.3zM994.5,307.2l4.3,4.3-4.3,4.3-4.3-4.3zM996.0,341.9l4.3,4.3-4.3,4.3-4.3-4.3zM997.6,336.9l4.3,4.3-4.3,4.3-4.3-4.3zM999.2,298.9l4.3,4.3-4.3,4.3-4.3-4.3zM1000.8,301.6l4.3,4.3-4.3,4.3-4.3-4.3zM1002.4,310.2l4.3,4.3-4.3,4.3-4.3-4.3zM1003.9,320.2l4.3,4.3-4.3,4.3-4.3-4.3zM1005.5,317.7l4.3,4.3-4.3,4.3-4.3-4.3zM1007.1,334.4l4.3,4.3-4.3,4.3-4.3-4.3zM1008.7,299.4l4.3,4.3-4.3,4.3-4.3-4.3zM1010.3,329.0l4.3,4.3-4.3,4.3-4.3-4.3zM1011.8,329.4l4.3,4.3-4.3,4.3-4.3-4.3zM1013.4,296.2l4.3,4.3-4.3,4.3-4.3-4.3zM1015.0,330.4l4.3,4.3-4.3,4.3-4.3-4.3zM1016.6,335.6l4.3,4.3-4.3,4.3-4.3-4.3zM1018.2,300.3l4.3,4.3-4.3,4.3-4.3-4.3zM1019.7,342.8l4.3,4.3-4.3,4.3-4.3-4.3zM1021.3,332.8l4.3,4.3-4.3,4.3-4.3-4.3zM1022.9,382.2l4.3,4.3-4.3,4.3-4.3-4.3zM1024.5,276.3l4.3,4.3-4.3,4.3-4.3-4.3zM1026.1,341.8l4.3,4.3-4.3,4.3-4.3-4.3zM1027.7,344.8l4.3,4.3-4.3,4.3-4.3-4.3zM1029.2,318.5l4.3,4.3-4.3,4.3-4.3-4.3zM1030.8,370.5l4.3,4.3-4.3,4.3-4.3-4.3zM1032.4,295.6l4.3,4.3-4.3,4.3-4.3-4.3zM1034.0,315.2l4.3,4.3-4.3,4.3-4.3-4.3zM1035.6,318.5l4.3,4.3-4.3,4.3-4.3-4.3zM1037.1,330.0l4.3,4.3-4.3,4.3-4.3-4.3zM1038.7,319.9l4.3,4.3-4.3,4.3-4.3-4.3zM1040.3,310.8l4.3,4.3-4.3,4.3-4.3-4.3zM1041.9,307.2l4.3,4.3-4.3,4.3-4.3-4.3zM1043.5,295.6l4.3,4.3-4.3,4.3-4.3-4.3zM1045.0,299.6l4.3,4.3-4.3,4.3-4.3-4.3zM1046.6,301.7l4.3,4.3-4.3,4.3-4.3-4.3zM1048.2,289.7l4.3,4.3-4.3,4.3-4.3-4.3zM1049.8,319.7l4.3,4.3-4.3,4.3-4.3-4.3zM1051.4,352.3l4.3,4.3-4.3,4.3-4.3-4.3zM1052.9,307.1l4.3,4.3-4.3,4.3-4.3-4.3zM1054.5,355.5l4.3,4.3-4.3,4.3-4.3-4.3zM1056.1,324.9l4.3,4.3-4.3,4.3-4.3-4.3zM1057.7,319.9l4.3,4.3-4.3,4.3-4.3-4.3zM1059.3,321.6l4.3,4.3-4.3,4.3-4.3-4.3zM1060.8,273.8l4.3,4.3-4.3,4.3-4.3-4.3zM1062.4,282.1l4.3,4.3-4.3,4.3-4.3-4.3zM1064.0,290.8l4.3,4.3-4.3,4.3-4.3-4.3zM1065.6,294.5l4.3,4.3-4.3,4.3-4.3-4.3zM1067.2,277.7l4.3,4.3-4.3,4.3-4.3-4.3zM1068.8,289.7l4.3,4.3-4.3,4.3-4.3-4.3zM1070.3,293.9l4.3,4.3-4.3,4.3-4.3-4.3zM1071.9,279.4l4.3,4.3-4.3,4.3-4.3-4.3zM1073.5,303.7l4.3,4.3-4.3,4.3-4.3-4.3zM1075.1,277.3l4.3,4.3-4.3,4.3-4.3-4.3zM1076.7,237.0l4.3,4.3-4.3,4.3-4.3-4.3zM1078.2,260.5l4.3,4.3-4.3,4.3-4.3-4.3zM1079.8,293.8l4.3,4.3-4.3,4.3-4.3-4.3zM1081.4,263.4l4.3,4.3-4.3,4.3-4.3-4.3zM1083.0,286.5l4.3,4.3-4.3,4.3-4.3-4.3zM1084.6,281.4l4.3,4.3-4.3,4.3-4.3-4.3zM1086.1,276.3l4.3,4.3-4.3,4.3-4.3-4.3zM1087.7,244.3l4.3,4.3-4.3,4.3-4.3-4.3zM1089.3,281.9l4.3,4.3-4.3,4.3-4.3-4.3zM1090.9,272.8l4.3,4.3-4.3,4.3-4.3-4.3zM1092.5,269.4l4.3,4.3-4.3,4.3-4.3-4.3zM1094.0,279.8l4.3,4.3-4.3,4.3-4.3-4.3zM1095.6,251.2l4.3,4.3-4.3,4.3-4.3-4.3zM1097.2,263.0l4.3,4.3-4.3,4.3-4.3-4.3zM1098.8,253.9l4.3,4.3-4.3,4.3-4.3-4.3zM1100.4,260.8l4.3,4.3-4.3,4.3-4.3-4.3zM1101.9,262.8l4.3,4.3-4.3,4.3-4.3-4.3zM1103.5,280.6l4.3,4.3-4.3,4.3-4.3-4.3zM1105.1,239.2l4.3,4.3-4.3,4.3-4.3-4.3zM1106.7,281.8l4.3,4.3-4.3,4.3-4.3-4.3zM1108.3,219.7l4.3,4.3-4.3,4.3-4.3-4.3zM1109.9,259.9l4.3,4.3-4.3,4.3-4.3-4.3zM1111.4,276.0l4.3,4.3-4.3,4.3-4.3-4.3zM1113.0,291.0l4.3,4.3-4.3,4.3-4.3-4.3zM1114.6,279.1l4.3,4.3-4.3,4.3-4.3-4.3zM1116.2,310.5l4.3,4.3-4.3,4.3-4.3-4.3zM1117.8,350.8l4.3,4.3-4.3,4.3-4.3-4.3zM1119.3,300.5l4.3,4.3-4.3,4.3-4.3-4.3zM1120.9,310.0l4.3,4.3-4.3,4.3-4.3-4.3zM1122.5,292.9l4.3,4.3-4.3,4.3-4.3-4.3zM1124.1,291.9l4.3,4.3-4.3,4.3-4.3-4.3zM1125.7,332.6l4.3,4.3-4.3,4.3-4.3-4.3zM1127.2,373.6l4.3,4.3-4.3,4.3-4.3-4.3zM1128.8,319.3l4.3,4.3-4.3,4.3-4.3-4.3zM1130.4,322.9l4.3,4.3-4.3,4.3-4.3-4.3zM1132.0,358.5l4.3,4.3-4.3,4.3-4.3-4.3zM1133.6,321.6l4.3,4.3-4.3,4.3-4.3-4.3zM1135.1,327.6l4.3,4.3-4.3,4.3-4.3-4.3zM1136.7,359.3l4.3,4.3-4.3,4.3-4.3-4.3zM1138.3,348.3l4.3,4.3-4.3,4.3-4.3-4.3zM1139.9,334.8l4.3,4.3-4.3,4.3-4.3-4.3zM1141.5,352.2l4.3,4.3-4.3,4.3-4.3-4.3zM1143.0,349.3l4.3,4.3-4.3,4.3-4.3-4.3zM1144.6,353.6l4.3,4.3-4.3,4.3-4.3-4.3zM1146.2,381.0l4.3,4.3-4.3,4.3-4.3-4.3zM1147.8,392.6l4.3,4.3-4.3,4.3-4.3-4.3zM1149.4,381.6l4.3,4.3-4.3,4.3-4.3-4.3zM1150.9,360.7l4.3,4.3-4.3,4.3-4.3-4.3zM1152.5,415.2l4.3,4.3-4.3,4.3-4.3-4.3zM1154.1,376.0l4.3,4.3-4.3,4.3-4.3-4.3zM1155.7,449.4l4.3,4.3-4.3,4.3-4.3-4.3zM1157.3,398.8l4.3,4.3-4.3,4.3-4.3-4.3zM1158.9,357.4l4.3,4.3-4.3,4.3-4.3-4.3zM1160.4,391.4l4.3,4.3-4.3,4.3-4.3-4.3zM1162.0,380.4l4.3,4.3-4.3,4.3-4.3-4.3zM1163.6,370.3l4.3,4.3-4.3,4.3-4.3-4.3zM1165.2,352.8l4.3,4.3-4.3,4.3-4.3-4.3zM1166.8,394.4l4.3,4.3-4.3,4.3-4.3-4.3zM1168.3,384.1l4.3,4.3-4.3,4.3-4.3-4.3zM1169.9,381.4l4.3,4.3-4.3,4.3-4.3-4.3zM1171.5,370.4l4.3,4.3-4.3,4.3-4.3-4.3zM1173.1,337.4l4.3,4.3-4.3,4.3-4.3-4.3zM1174.7,383.2l4.3,4.3-4.3,4.3-4.3-4.3zM1176.2,368.1l4.3,4.3-4.3,4.3-4.3-4.3zM1177.8,375.8l4.3,4.3-4.3,4.3-4.3-4.3zM1179.4,378.7l4.3,4.3-4.3,4.3-4.3-4.3zM1181.0,353.8l4.3,4.3-4.3,4.3-4.3-4.3zM1182.6,348.4l4.3,4.3-4.3,4.3-4.3-4.3zM1184.1,323.9l4.3,4.3-4.3,4.3-4.3-4.3zM1185.7,370.1l4.3,4.3-4.3,4.3-4.3-4.3zM1187.3,363.6l4.3,4.3-4.3,4.3-4.3-4.3zM1188.9,372.9l4.3,4.3-4.3,4.3-4.3-4.3zM1190.5,358.4l4.3,4.3-4.3,4.3-4.3-4.3zM1192.0,368.4l4.3,4.3-4.3,4.3-4.3-4.3zM1193.6,397.8l4.3,4.3-4.3,4.3-4.3-4.3zM1195.2,366.7l4.3,4.3-4.3,4.3-4.3-4.3zM1196.8,362.3l4.3,4.3-4.3,4.3-4.3-4.3zM1198.4,368.8l4.3,4.3-4.3,4.3-4.3-4.3zM1200.0,377.5l4.3,4.3-4.3,4.3-4.3-4.3zM1201.5,383.0l4.3,4.3-4.3,4.3-4.3-4.3zM1203.1,397.8l4.3,4.3-4.3,4.3-4.3-4.3zM1204.7,408.6l4.3,4.3-4.3,4.3-4.3-4.3zM1206.3,401.0l4.3,4.3-4.3,4.3-4.3-4.3zM1207.9,402.7l4.3,4.3-4.3,4.3-4.3-4.3zM1209.4,403.0l4.3,4.3-4.3,4.3-4.3-4.3zM1211.0,390.0l4.3,4.3-4.3,4.3-4.3-4.3zM1212.6,408.7l4.3,4.3-4.3,4.3-4.3-4.3zM1214.2,368.9l4.3,4.3-4.3,4.3-4.3-4.3zM1215.8,390.3l4.3,4.3-4.3,4.3-4.3-4.3zM1217.3,400.7l4.3,4.3-4.3,4.3-4.3-4.3zM1218.9,372.0l4.3,4.3-4.3,4.3-4.3-4.3zM1220.5,374.3l4.3,4.3-4.3,4.3-4.3-4.3zM1222.1,418.7l4.3,4.3-4.3,4.3-4.3-4.3zM1223.7,419.2l4.3,4.3-4.3,4.3-4.3-4.3zM1225.2,394.4l4.3,4.3-4.3,4.3-4.3-4.3zM1226.8,381.3l4.3,4.3-4.3,4.3-4.3-4.3zM1228.4,402.3l4.3,4.3-4.3,4.3-4.3-4.3zM1230.0,369.7l4.3,4.3-4.3,4.3-4.3-4.3zM1231.6,420.8l4.3,4.3-4.3,4.3-4.3-4.3zM1233.1,385.6l4.3,4.3-4.3,4.3-4.3-4.3zM1234.7,390.2l4.3,4.3-4.3,4.3-4.3-4.3zM1236.3,408.2l4.3,4.3-4.3,4.3-4.3-4.3zM1237.9,436.4l4.3,4.3-4.3,4.3-4.3-4.3zM1239.5,418.6l4.3,4.3-4.3,4.3-4.3-4.3zM1241.0,394.6l4.3,4.3-4.3,4.3-4.3-4.3zM1242.6,421.3l4.3,4.3-4.3,4.3-4.3-4.3zM1244.2,419.1l4.3,4.3-4.3,4.3-4.3-4.3zM1245.8,409.0l4.3,4.3-4.3,4.3-4.3-4.3zM1247.4,411.1l4.3,4.3-4.3,4.3-4.3-4.3zM1249.0,422.5l4.3,4.3-4.3,4.3-4.3-4.3zM1250.5,399.0l4.3,4.3-4.3,4.3-4.3-4.3zM1252.1,408.7l4.3,4.3-4.3,4.3-4.3-4.3zM1253.7,448.2l4.3,4.3-4.3,4.3-4.3-4.3zM1255.3,420.1l4.3,4.3-4.3,4.3-4.3-4.3zM1256.9,433.2l4.3,4.3-4.3,4.3-4.3-4.3zM1258.4,396.0l4.3,4.3-4.3,4.3-4.3-4.3zM1260.0,415.6l4.3,4.3-4.3,4.3-4.3-4.3zM1261.6,422.2l4.3,4.3-4.3,4.3-4.3-4.3zM1263.2,433.3l4.3,4.3-4.3,4.3-4.3-4.3zM1264.8,437.4l4.3,4.3-4.3,4.3-4.3-4.3zM1266.3,442.3l4.3,4.3-4.3,4.3-4.3-4.3zM1267.9,407.6l4.3,4.3-4.3,4.3-4.3-4.3zM1269.5,441.1l4.3,4.3-4.3,4.3-4.3-4.3zM1271.1,451.4l4.3,4.3-4.3,4.3-4.3-4.3zM1272.7,429.1l4.3,4.3-4.3,4.3-4.3-4.3zM1274.2,428.1l4.3,4.3-4.3,4.3-4.3-4.3zM1275.8,445.3l4.3,4.3-4.3,4.3-4.3-4.3zM1277.4,461.2l4.3,4.3-4.3,4.3-4.3-4.3zM1279.0,425.5l4.3,4.3-4.3,4.3-4.3-4.3zM1280.6,429.0l4.3,4.3-4.3,4.3-4.3-4.3zM1282.1,485.4l4.3,4.3-4.3,4.3-4.3-4.3zM1283.7,467.8l4.3,4.3-4.3,4.3-4.3-4.3zM1285.3,416.3l4.3,4.3-4.3,4.3-4.3-4.3zM1286.9,468.8l4.3,4.3-4.3,4.3-4.3-4.3zM1288.5,485.6l4.3,4.3-4.3,4.3-4.3-4.3zM1290.1,445.6l4.3,4.3-4.3,4.3-4.3-4.3zM1291.6,464.6l4.3,4.3-4.3,4.3-4.3-4.3zM1293.2,446.4l4.3,4.3-4.3,4.3-4.3-4.3zM1294.8,496.1l4.3,4.3-4.3,4.3-4.3-4.3zM1296.4,439.9l4.3,4.3-4.3,4.3-4.3-4.3zM1298.0,455.4l4.3,4.3-4.3,4.3-4.3-4.3zM1299.5,475.8l4.3,4.3-4.3,4.3-4.3-4.3zM1301.1,480.1l4.3,4.3-4.3,4.3-4.3-4.3zM1302.7,457.9l4.3,4.3-4.3,4.3-4.3-4.3zM1304.3,484.0l4.3,4.3-4.3,4.3-4.3-4.3zM1305.9,460.6l4.3,4.3-4.3,4.3-4.3-4.3zM1307.4,484.5l4.3,4.3-4.3,4.3-4.3-4.3zM1309.0,469.7l4.3,4.3-4.3,4.3-4.3-4.3zM1310.6,508.1l4.3,4.3-4.3,4.3-4.3-4.3zM1312.2,492.9l4.3,4.3-4.3,4.3-4.3-4.3zM1313.8,514.8l4.3,4.3-4.3,4.3-4.3-4.3zM1315.3,492.3l4.3,4.3-4.3,4.3-4.3-4.3zM1316.9,495.6l4.3,4.3-4.3,4.3-4.3-4.3zM1318.5,491.3l4.3,4.3-4.3,4.3-4.3-4.3zM1320.1,486.6l4.3,4.3-4.3,4.3-4.3-4.3zM1321.7,526.7l4.3,4.3-4.3,4.3-4.3-4.3zM1323.2,492.6l4.3,4.3-4.3,4.3-4.3-4.3zM1324.8,488.9l4.3,4.3-4.3,4.3-4.3-4.3zM1326.4,515.3l4.3,4.3-4.3,4.3-4.3-4.3zM1328.0,496.0l4.3,4.3-4.3,4.3-4.3-4.3zM1329.6,536.5l4.3,4.3-4.3,4.3-4.3-4.3zM1331.2,514.0l4.3,4.3-4.3,4.3-4.3-4.3zM1332.7,514.3l4.3,4.3-4.3,4.3-4.3-4.3zM1334.3,522.3l4.3,4.3-4.3,4.3-4.3-4.3zM1335.9,476.3l4.3,4.3-4.3,4.3-4.3-4.3zM1337.5,488.7l4.3,4.3-4.3,4.3-4.3-4.3zM1339.1,496.3l4.3,4.3-4.3,4.3-4.3-4.3zM1340.6,505.9l4.3,4.3-4.3,4.3-4.3-4.3zM1342.2,474.0l4.3,4.3-4.3,4.3-4.3-4.3zM1343.8,485.6l4.3,4.3-4.3,4.3-4.3-4.3zM1345.4,494.5l4.3,4.3-4.3,4.3-4.3-4.3zM1347.0,505.5l4.3,4.3-4.3,4.3-4.3-4.3zM1348.5,508.3l4.3,4.3-4.3,4.3-4.3-4.3zM1350.1,509.7l4.3,4.3-4.3,4.3-4.3-4.3zM1351.7,503.6l4.3,4.3-4.3,4.3-4.3-4.3zM1353.3,529.1l4.3,4.3-4.3,4.3-4.3-4.3zM1354.9,503.7l4.3,4.3-4.3,4.3-4.3-4.3zM1356.4,494.6l4.3,4.3-4.3,4.3-4.3-4.3zM1358.0,508.5l4.3,4.3-4.3,4.3-4.3-4.3zM1359.6,535.5l4.3,4.3-4.3,4.3-4.3-4.3zM1361.2,515.8l4.3,4.3-4.3,4.3-4.3-4.3zM1362.8,538.6l4.3,4.3-4.3,4.3-4.3-4.3zM1364.3,548.8l4.3,4.3-4.3,4.3-4.3-4.3zM1365.9,488.2l4.3,4.3-4.3,4.3-4.3-4.3zM1367.5,541.0l4.3,4.3-4.3,4.3-4.3-4.3zM1369.1,553.0l4.3,4.3-4.3,4.3-4.3-4.3zM1370.7,565.7l4.3,4.3-4.3,4.3-4.3-4.3zM1372.2,548.2l4.3,4.3-4.3,4.3-4.3-4.3zM1373.8,555.3l4.3,4.3-4.3,4.3-4.3-4.3zM1375.4,586.5l4.3,4.3-4.3,4.3-4.3-4.3zM1377.0,580.0l4.3,4.3-4.3,4.3-4.3-4.3zM1378.6,537.8l4.3,4.3-4.3,4.3-4.3-4.3zM1380.2,576.9l4.3,4.3-4.3,4.3-4.3-4.3zM1381.7,594.2l4.3,4.3-4.3,4.3-4.3-4.3zM1383.3,557.1l4.3,4.3-4.3,4.3-4.3-4.3zM1384.9,604.7l4.3,4.3-4.3,4.3-4.3-4.3zM1386.5,543.6l4.3,4.3-4.3,4.3-4.3-4.3zM1388.1,611.0l4.3,4.3-4.3,4.3-4.3-4.3zM1389.6,600.5l4.3,4.3-4.3,4.3-4.3-4.3zM1391.2,608.0l4.3,4.3-4.3,4.3-4.3-4.3zM1392.8,603.8l4.3,4.3-4.3,4.3-4.3-4.3zM1394.4,629.4l4.3,4.3-4.3,4.3-4.3-4.3zM1396.0,617.0l4.3,4.3-4.3,4.3-4.3-4.3zM1397.5,594.1l4.3,4.3-4.3,4.3-4.3-4.3zM1399.1,587.4l4.3,4.3-4.3,4.3-4.3-4.3zM1400.7,584.1l4.3,4.3-4.3,4.3-4.3-4.3zM1402.3,592.2l4.3,4.3-4.3,4.3-4.3-4.3zM1403.9,612.5l4.3,4.3-4.3,4.3-4.3-4.3zM1405.4,607.8l4.3,4.3-4.3,4.3-4.3-4.3zM1407.0,605.5l4.3,4.3-4.3,4.3-4.3-4.3zM1408.6,631.2l4.3,4.3-4.3,4.3-4.3-4.3zM1410.2,613.6l4.3,4.3-4.3,4.3-4.3-4.3zM1411.8,616.4l4.3,4.3-4.3,4.3-4.3-4.3zM1413.3,625.8l4.3,4.3-4.3,4.3-4.3-4.3zM1414.9,632.0l4.3,4.3-4.3,4.3-4.3-4.3zM1416.5,625.5l4.3,4.3-4.3,4.3-4.3-4.3zM1418.1,656.7l4.3,4.3-4.3,4.3-4.3-4.3zM1419.7,667.6l4.3,4.3-4.3,4.3-4.3-4.3zM1421.3,645.1l4.3,4.3-4.3,4.3-4.3-4.3zM1422.8,646.8l4.3,4.3-4.3,4.3-4.3-4.3zM1424.4,680.0l4.3,4.3-4.3,4.3-4.3-4.3zM1426.0,656.0l4.3,4.3-4.3,4.3-4.3-4.3zM324.1,1245.3l4.3,4.3-4.3,4.3-4.3-4.3zM313.6,1251.4l4.3,4.3-4.3,4.3-4.3-4.3zM318.3,1252.2l4.3,4.3-4.3,4.3-4.3-4.3zM572.3,1249.4l4.3,4.3-4.3,4.3-4.3-4.3zM595.8,1251.0l4.3,4.3-4.3,4.3-4.3-4.3zM628.0,1247.4l4.3,4.3-4.3,4.3-4.3-4.3zM1045.4,214.2l4.3,4.3-4.3,4.3-4.3-4.3zM1102.2,232.3l4.3,4.3-4.3,4.3-4.3-4.3zM1099.2,246.4l4.3,4.3-4.3,4.3-4.3-4.3zM935.3,270.6l4.3,4.3-4.3,4.3-4.3-4.3zM1023.1,363.2l4.3,4.3-4.3,4.3-4.3-4.3zM1026.7,373.3l4.3,4.3-4.3,4.3-4.3-4.3zM1036.0,351.1l4.3,4.3-4.3,4.3-4.3-4.3zM1403.7,546.5l4.3,4.3-4.3,4.3-4.3-4.3zM828.2,612.9l4.3,4.3-4.3,4.3-4.3-4.3zM830.5,629.1l4.3,4.3-4.3,4.3-4.3-4.3z" fill="#0a0a0a" stroke="#0a0a0a" stroke-width="1.4" stroke-linejoin="round"/>
<line x1="665.8" y1="96.9" x2="665.8" y2="1302.0" stroke="#0a0a0a" stroke-width="5.7" stroke-dasharray="20.8 16.3"/>
<line x1="900.0" y1="96.9" x2="900.0" y2="1302.0" stroke="#0a0a0a" stroke-width="5.7" stroke-dasharray="20.8 16.3"/>
<g stroke="#000" stroke-width="5.3" fill="none">
<line x1="242" y1="93.6" x2="1440" y2="93.6"/>
<line x1="242" y1="1302.0" x2="1440" y2="1302.0"/>
<line x1="256.2" y1="93.6" x2="256.2" y2="1315.3"/>
<line x1="1427.1" y1="93.6" x2="1427.1" y2="1315.3"/>
<line x1="242" y1="1100.6" x2="256.2" y2="1100.6"/>
<line x1="242" y1="899.2" x2="256.2" y2="899.2"/>
<line x1="242" y1="697.8" x2="256.2" y2="697.8"/>
<line x1="242" y1="496.4" x2="256.2" y2="496.4"/>
<line x1="242" y1="295.0" x2="256.2" y2="295.0"/>
<line x1="1427.1" y1="1181.2" x2="1440" y2="1181.2"/>
<line x1="1427.1" y1="1060.3" x2="1440" y2="1060.3"/>
<line x1="1427.1" y1="939.5" x2="1440" y2="939.5"/>
<line x1="1427.1" y1="818.6" x2="1440" y2="818.6"/>
<line x1="1427.1" y1="697.8" x2="1440" y2="697.8"/>
<line x1="1427.1" y1="577.0" x2="1440" y2="577.0"/>
<line x1="1427.1" y1="456.1" x2="1440" y2="456.1"/>
<line x1="1427.1" y1="335.3" x2="1440" y2="335.3"/>
<line x1="1427.1" y1="214.4" x2="1440" y2="214.4"/>
<line x1="373.3" y1="1302.0" x2="373.3" y2="1315.3"/>
<line x1="490.4" y1="1302.0" x2="490.4" y2="1315.3"/>
<line x1="607.5" y1="1302.0" x2="607.5" y2="1315.3"/>
<line x1="724.6" y1="1302.0" x2="724.6" y2="1315.3"/>
<line x1="841.6" y1="1302.0" x2="841.6" y2="1315.3"/>
<line x1="958.7" y1="1302.0" x2="958.7" y2="1315.3"/>
<line x1="1075.8" y1="1302.0" x2="1075.8" y2="1315.3"/>
<line x1="1192.9" y1="1302.0" x2="1192.9" y2="1315.3"/>
<line x1="1310.0" y1="1302.0" x2="1310.0" y2="1315.3"/>
</g>
<g font-size="42.2" fill="#111">
<text x="191.4" y="1317.1" textLength="24.6" lengthAdjust="spacingAndGlyphs">0</text>
<text x="170.1" y="1115.7" textLength="45.7" lengthAdjust="spacingAndGlyphs">50</text>
<text x="147.9" y="914.3" textLength="67.9" lengthAdjust="spacingAndGlyphs">100</text>
<text x="147.9" y="712.9" textLength="67.9" lengthAdjust="spacingAndGlyphs">150</text>
<text x="147.8" y="511.5" textLength="68.0" lengthAdjust="spacingAndGlyphs">200</text>
<text x="147.8" y="310.1" textLength="68.0" lengthAdjust="spacingAndGlyphs">250</text>
<text x="148.8" y="108.7" textLength="67.0" lengthAdjust="spacingAndGlyphs">300</text>
<text x="222.6" y="1373.8" textLength="68.0" lengthAdjust="spacingAndGlyphs">600</text>
<text x="339.7" y="1373.8" textLength="68.0" lengthAdjust="spacingAndGlyphs">620</text>
<text x="456.8" y="1373.8" textLength="68.0" lengthAdjust="spacingAndGlyphs">640</text>
<text x="573.9" y="1373.8" textLength="68.0" lengthAdjust="spacingAndGlyphs">660</text>
<text x="691.0" y="1373.8" textLength="68.0" lengthAdjust="spacingAndGlyphs">680</text>
<text x="808.1" y="1373.8" textLength="68.0" lengthAdjust="spacingAndGlyphs">700</text>
<text x="925.2" y="1373.8" textLength="68.0" lengthAdjust="spacingAndGlyphs">720</text>
<text x="1042.3" y="1373.8" textLength="68.0" lengthAdjust="spacingAndGlyphs">740</text>
<text x="1159.4" y="1373.8" textLength="68.0" lengthAdjust="spacingAndGlyphs">760</text>
<text x="1276.4" y="1373.8" textLength="68.0" lengthAdjust="spacingAndGlyphs">780</text>
<text x="1393.5" y="1373.8" textLength="68.0" lengthAdjust="spacingAndGlyphs">800</text>
</g>
<g font-size="42.9" fill="#0070c0">
<text x="1466.6" y="1316.9" textLength="24.9" lengthAdjust="spacingAndGlyphs">0</text>
<text x="1466.6" y="1196.1" textLength="59.4" lengthAdjust="spacingAndGlyphs">0.2</text>
<text x="1466.6" y="1075.2" textLength="59.5" lengthAdjust="spacingAndGlyphs">0.4</text>
<text x="1466.6" y="954.4" textLength="60.5" lengthAdjust="spacingAndGlyphs">0.6</text>
<text x="1466.6" y="833.5" textLength="59.4" lengthAdjust="spacingAndGlyphs">0.8</text>
<text x="1468.8" y="712.7" textLength="21.6" lengthAdjust="spacingAndGlyphs">1</text>
<text x="1468.7" y="591.9" textLength="57.3" lengthAdjust="spacingAndGlyphs">1.2</text>
<text x="1468.7" y="471.0" textLength="57.4" lengthAdjust="spacingAndGlyphs">1.4</text>
<text x="1468.6" y="350.2" textLength="58.4" lengthAdjust="spacingAndGlyphs">1.6</text>
<text x="1468.7" y="229.3" textLength="57.3" lengthAdjust="spacingAndGlyphs">1.8</text>
<text x="1467.6" y="108.5" textLength="22.8" lengthAdjust="spacingAndGlyphs">2</text>
<text x="926.6" y="1067.3" font-size="45" textLength="79.5" lengthAdjust="spacingAndGlyphs">Ac1</text>
</g>
<g font-size="35" fill="#1a1a1a">
<text x="624.7" y="150.0" textLength="17.3" lengthAdjust="spacingAndGlyphs">1</text>
<text x="866.0" y="150.0" textLength="17.4" lengthAdjust="spacingAndGlyphs">2</text>
</g>
<g font-size="53.5" fill="#111" stroke="#111" stroke-linejoin="round">
<text><tspan x="650.7" y="1467.3" textLength="310.8" lengthAdjust="spacingAndGlyphs" stroke-width="0.31">Temperature</tspan> <tspan x="994.1" y="1465.3" textLength="10.7" lengthAdjust="spacingAndGlyphs" stroke-width="1.43">[</tspan><tspan x="1011.3" y="1461.9" textLength="17.4" lengthAdjust="spacingAndGlyphs" stroke-width="0.52" font-size="49">°</tspan><tspan x="1032.0" y="1467.3" textLength="27.2" lengthAdjust="spacingAndGlyphs" stroke-width="1.24">C</tspan><tspan x="1063.9" y="1465.3" textLength="10.7" lengthAdjust="spacingAndGlyphs" stroke-width="1.43">]</tspan></text>
<text transform="translate(66.2,1002.0) rotate(-90)"><tspan x="-2.5" y="0.0" textLength="197.5" lengthAdjust="spacingAndGlyphs" stroke-width="0.29">Number</tspan> <tspan x="209.5" y="0.0" textLength="49.5" lengthAdjust="spacingAndGlyphs" stroke-width="0.26">of</tspan> <tspan x="273.8" y="0.0" textLength="139.9" lengthAdjust="spacingAndGlyphs" stroke-width="0.50">peaks</tspan> <tspan x="426.5" y="0.0" textLength="214.3" lengthAdjust="spacingAndGlyphs" stroke-width="0.30">detected</tspan></text>
</g>
<text transform="translate(1634.0,899.0) rotate(-90)" fill="#0070c0" stroke="#0070c0" stroke-linejoin="round" font-size="53.5"><tspan x="-1.6" y="0.0" textLength="28.1" lengthAdjust="spacingAndGlyphs" stroke-width="0.71">ρ</tspan> <tspan x="56.8" y="0.0" textLength="23.5" lengthAdjust="spacingAndGlyphs" stroke-width="0.92">x</tspan> <tspan x="97.4" y="0.0" textLength="24.9" lengthAdjust="spacingAndGlyphs" stroke-width="0.74">1</tspan><tspan x="128.5" y="0.0" textLength="22.5" lengthAdjust="spacingAndGlyphs" stroke-width="1.49">E</tspan><tspan x="155.7" y="0.0" textLength="24.8" lengthAdjust="spacingAndGlyphs" stroke-width="0.75">1</tspan><tspan x="186.8" y="0.0" textLength="23.7" lengthAdjust="spacingAndGlyphs" stroke-width="0.89">5</tspan> <tspan x="227.5" y="-2.0" textLength="11.1" lengthAdjust="spacingAndGlyphs" stroke-width="1.06" font-size="47">[</tspan><tspan x="242.5" y="0.0" textLength="39.2" lengthAdjust="spacingAndGlyphs" stroke-width="0.40" font-size="47">m</tspan><tspan x="286.3" y="-14.0" textLength="19.6" lengthAdjust="spacingAndGlyphs" font-size="33" font-weight="normal" stroke-width="0.9">−</tspan><tspan x="307.8" y="-14.0" textLength="15.6" lengthAdjust="spacingAndGlyphs" font-size="33" font-weight="normal" stroke-width="0.9">2</tspan><tspan x="325.0" y="-2.0" textLength="12.7" lengthAdjust="spacingAndGlyphs" stroke-width="0.74" font-size="47">]</tspan></text>
</g>
</svg></body></html>
